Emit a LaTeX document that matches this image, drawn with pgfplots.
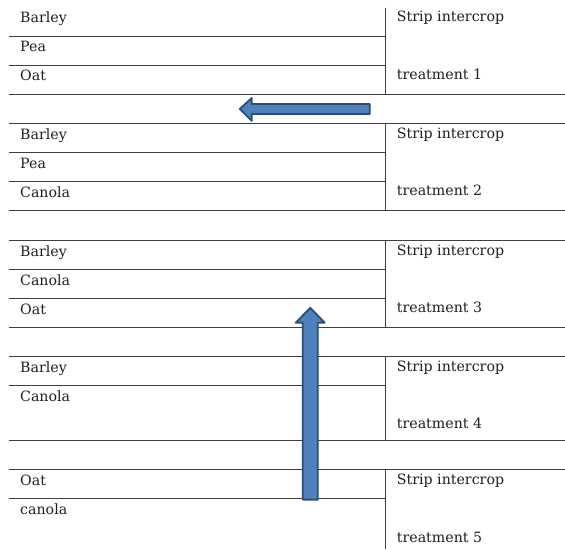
\documentclass[border=0pt]{standalone}
\usepackage{fontspec}
\setmainfont{DejaVu Serif}
\usepackage{pgfplots}
\pgfplotsset{compat=1.18}
\definecolor{linegray}{HTML}{3F3F3F}
\definecolor{txt}{HTML}{1F1F1F}
\definecolor{arrowfill}{HTML}{4F81BD}
\definecolor{arrowdraw}{HTML}{2C4D75}
\tikzset{lab/.style={anchor=base west, inner sep=0pt, text=txt, font=\fontsize{14.2}{16}\selectfont}}
\begin{document}
\begin{tikzpicture}
\begin{axis}[scale only axis, width=565pt, height=549pt,
  xmin=0, xmax=565, ymin=0, ymax=549, y dir=reverse,
  hide axis, clip=false]
\addplot[draw=none, forget plot] coordinates {(0,0) (565,549)};
% grid lines
\addplot[linegray, line width=0.9pt, unbounded coords=jump] table {
x y
9 36
386 36
nan nan
9 65
386 65
nan nan
9 95
565 95
nan nan
9 124
565 124
nan nan
9 153
386 153
nan nan
9 182
386 182
nan nan
9 211
565 211
nan nan
9 241
565 241
nan nan
9 270
386 270
nan nan
9 299
386 299
nan nan
9 328
565 328
nan nan
9 357
565 357
nan nan
9 386
386 386
nan nan
9 441
565 441
nan nan
9 470
565 470
nan nan
9 499
386 499
nan nan
386 8
386 95
nan nan
386 124
386 211
nan nan
386 241
386 328
nan nan
386 357
386 441
nan nan
386 470
386 549
};
% arrows
\addplot[fill=arrowfill, draw=arrowdraw, line width=1.8pt, line join=round] coordinates {
(370,104) (252,104) (252,98) (240,109) (252,121) (252,114) (370,114)} -- cycle;
\addplot[fill=arrowfill, draw=arrowdraw, line width=1.8pt, line join=round] coordinates {
(303,500) (303,323) (296,323) (310.5,308) (325,323) (318,323) (318,500)} -- cycle;
% texts
\node[lab] at (axis cs:20,22.5) {Barley};
\node[lab] at (axis cs:20,51.5) {Pea};
\node[lab] at (axis cs:20,81) {Oat};
\node[lab] at (axis cs:397,22) {Strip intercrop};
\node[lab] at (axis cs:397,79.5) {treatment 1};
\node[lab] at (axis cs:20,139.5) {Barley};
\node[lab] at (axis cs:20,168.5) {Pea};
\node[lab] at (axis cs:20,197.5) {Canola};
\node[lab] at (axis cs:397,139) {Strip intercrop};
\node[lab] at (axis cs:397,196) {treatment 2};
\node[lab] at (axis cs:20,256.5) {Barley};
\node[lab] at (axis cs:20,285.5) {Canola};
\node[lab] at (axis cs:20,315) {Oat};
\node[lab] at (axis cs:397,256) {Strip intercrop};
\node[lab] at (axis cs:397,313) {treatment 3};
\node[lab] at (axis cs:20,372.5) {Barley};
\node[lab] at (axis cs:20,401.5) {Canola};
\node[lab] at (axis cs:397,372) {Strip intercrop};
\node[lab] at (axis cs:397,428.5) {treatment 4};
\node[lab] at (axis cs:20,485.5) {Oat};
\node[lab] at (axis cs:20,514.5) {canola};
\node[lab] at (axis cs:397,485) {Strip intercrop};
\node[lab] at (axis cs:397,542.5) {treatment 5};
\end{axis}
\end{tikzpicture}
\end{document}
